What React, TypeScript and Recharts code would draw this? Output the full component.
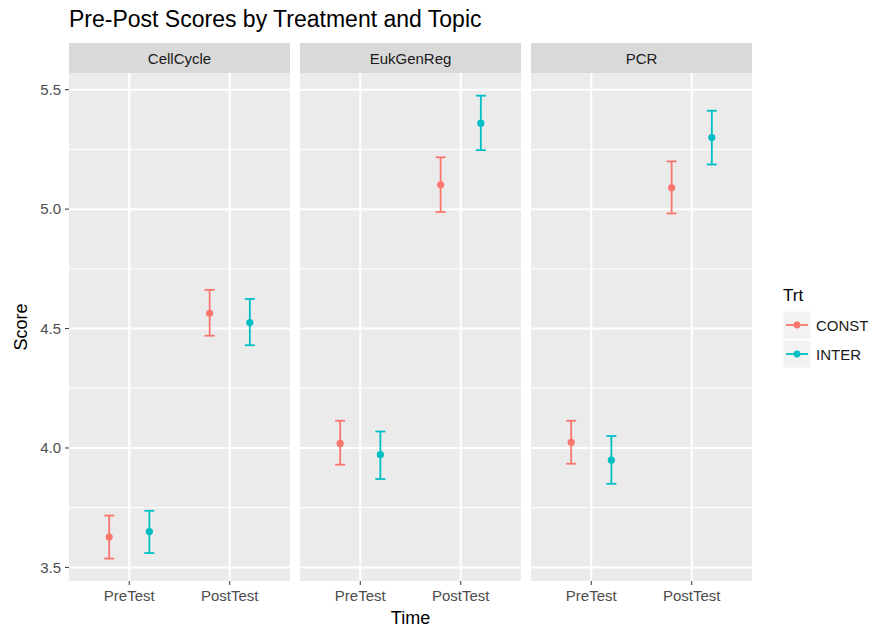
import React from 'react';
import { ScatterChart, Scatter, XAxis, YAxis, CartesianGrid, ErrorBar, ReferenceLine } from 'recharts';

const topics = ['CellCycle', 'EukGenReg', 'PCR'];
const times = ['PreTest', 'PostTest'];
const treatments = ['CONST', 'INTER'];
const colors = ['#F8766D', '#00BFC4'];

// values per topic: [PreTest, PostTest]
const constMean = [[3.627, 4.564], [4.019, 5.102], [4.024, 5.09]];
const constLow = [[3.537, 4.47], [3.93, 4.988], [3.934, 4.982]];
const constHigh = [[3.717, 4.662], [4.114, 5.217], [4.114, 5.2]];
const interMean = [[3.65, 4.525], [3.972, 5.36], [3.949, 5.3]];
const interLow = [[3.56, 4.43], [3.87, 5.247], [3.85, 5.187]];
const interHigh = [[3.737, 4.624], [4.069, 5.475], [4.05, 5.412]];

const yTicks = [3.5, 4.0, 4.5, 5.0, 5.5];
const yMinor = [3.75, 4.25, 4.75, 5.25];
const yDomain: [number, number] = [3.443, 5.57];
const xDomain: [number, number] = [0.4, 2.6];
const xTicks = [1, 2];
const dodge = 0.2;

const FONT = '"Liberation Sans", Arial, Helvetica, sans-serif';

function buildSeries(means: number[][], lows: number[][], highs: number[][], topicIdx: number, trtIdx: number) {
  const off = trtIdx === 0 ? -dodge : dodge;
  return times.map((t, i) => {
    const m = means[topicIdx][i];
    return { x: i + 1 + off, y: m, err: [m - lows[topicIdx][i], highs[topicIdx][i] - m], time: t };
  });
}

function Panel({ idx, showY }: { idx: number; showY: boolean }) {
  const w = showY ? 290 : 221;
  const series = [
    buildSeries(constMean, constLow, constHigh, idx, 0),
    buildSeries(interMean, interLow, interHigh, idx, 1),
  ];
  return (
    <ScatterChart width={w} height={630} margin={{ top: 73, right: 0, bottom: 19, left: 0 }}>
      <CartesianGrid fill="#EBEBEB" horizontal={false} vertical={false} stroke="none" />
      {yMinor.map((v) => (
        <ReferenceLine key={'m' + v} y={v} stroke="#FFFFFF" strokeWidth={1} />
      ))}
      {yTicks.map((v) => (
        <ReferenceLine key={'M' + v} y={v} stroke="#FFFFFF" strokeWidth={2} />
      ))}
      {xTicks.map((v) => (
        <ReferenceLine key={'x' + v} x={v} stroke="#FFFFFF" strokeWidth={2} />
      ))}
      <XAxis
        type="number"
        dataKey="x"
        domain={xDomain}
        ticks={xTicks}
        interval={0}
        allowDataOverflow
        tickFormatter={(v: number) => times[Math.round(v) - 1]}
        height={30}
        axisLine={false}
        tickLine={{ stroke: '#333333' }}
        tickSize={4}
        tickMargin={5}
        tick={{ fill: '#4D4D4D', fontSize: 15, fontFamily: FONT }}
      />
      <YAxis
        type="number"
        dataKey="y"
        domain={yDomain}
        ticks={yTicks}
        interval={0}
        allowDataOverflow
        hide={!showY}
        width={69}
        tickFormatter={(v: number) => v.toFixed(1)}
        axisLine={false}
        tickLine={{ stroke: '#333333' }}
        tickSize={4}
        tickMargin={4}
        tick={{ fill: '#4D4D4D', fontSize: 15, fontFamily: FONT }}
      />
      {series.map((data, si) => (
        <Scatter
          key={treatments[si]}
          name={treatments[si]}
          data={data}
          isAnimationActive={false}
          shape={(p: any) => <circle cx={p.cx} cy={p.cy} r={3.6} fill={colors[si]} />}
        >
          <ErrorBar dataKey="err" direction="y" width={5} stroke={colors[si]} strokeWidth={1.8} isAnimationActive={false} />
        </Scatter>
      ))}
    </ScatterChart>
  );
}

const panelLefts = [0, 300, 531];

export default function App() {
  return (
    <div style={{ position: 'absolute', left: 0, top: 0, width: 873, height: 630, background: '#FFFFFF', fontFamily: FONT, overflow: 'hidden' }}>
      <div style={{ position: 'absolute', left: 69, top: 8, fontSize: 23, lineHeight: '23px', color: '#000', whiteSpace: 'nowrap' }}>
        Pre-Post Scores by Treatment and Topic
      </div>
      {topics.map((t, i) => (
        <div key={t} style={{ position: 'absolute', left: i === 0 ? 69 : panelLefts[i], top: 43 }}>
          <div style={{ width: 221, height: 30, background: '#D9D9D9', color: '#1A1A1A', fontSize: 15, lineHeight: '30px', textAlign: 'center', paddingTop: 1, boxSizing: 'border-box' }}>
            {t}
          </div>
        </div>
      ))}
      {topics.map((t, i) => (
        <div key={'p' + t} style={{ position: 'absolute', left: panelLefts[i], top: 0 }}>
          <Panel idx={i} showY={i === 0} />
        </div>
      ))}
      <div style={{ position: 'absolute', left: 21, top: 327, transform: 'translate(-50%, -50%) rotate(-90deg)', fontSize: 18, whiteSpace: 'nowrap', color: '#000' }}>
        Score
      </div>
      <div style={{ position: 'absolute', left: 410.5, top: 609, transform: 'translateX(-50%)', fontSize: 18, lineHeight: '18px', whiteSpace: 'nowrap', color: '#000' }}>
        Time
      </div>
      <div style={{ position: 'absolute', left: 783, top: 287 }}>
        <div style={{ fontSize: 17, lineHeight: '17px', color: '#000' }}>Trt</div>
        {treatments.map((tr, i) => (
          <div key={tr} style={{ position: 'absolute', left: 0, top: 24 + i * 29, display: 'flex', alignItems: 'center', height: 28 }}>
            <svg width={28} height={28} style={{ display: 'block' }}>
              <rect x={0} y={0} width={28} height={28} fill="#F2F2F2" stroke="#FFFFFF" strokeWidth={1} />
              <line x1={3} y1={14} x2={25} y2={14} stroke={colors[i]} strokeWidth={1.8} />
              <circle cx={14} cy={14} r={3.4} fill={colors[i]} />
            </svg>
            <span style={{ marginLeft: 5, fontSize: 15, color: '#1A1A1A', whiteSpace: 'nowrap' }}>{tr}</span>
          </div>
        ))}
      </div>
    </div>
  );
}
